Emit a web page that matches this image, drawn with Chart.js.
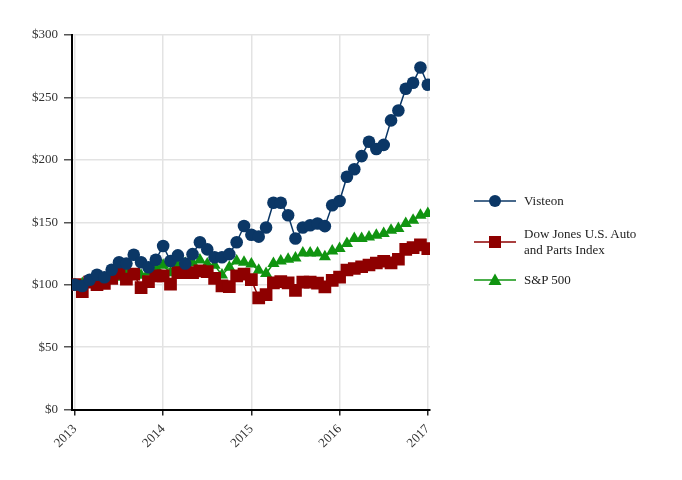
<!DOCTYPE html>
<html>
<head>
<meta charset="utf-8">
<script src="https://cdn.jsdelivr.net/npm/chart.js@4/dist/chart.umd.min.js"></script>
<style>
  html, body { margin: 0; padding: 0; background: #fff; }
  #wrap { position: relative; width: 682px; height: 480px; }
  #c { position: absolute; left: 0; top: 0; }
  .leg { position: absolute; left: 474px; font-family: "Liberation Serif", "Times New Roman", serif; font-size: 13px; color: #222; line-height: 16px; }
  .leg svg { position: absolute; left: 0; }
  .leg span { position: absolute; left: 50px; white-space: nowrap; }
</style>
</head>
<body>
<div id="wrap">
  <canvas id="c" width="682" height="480"></canvas>
</div>
<script>
// ---- data (monthly, Jan 2013 = index 0 ... Jan 2017 = index 48) ----
const yearLabels = ['2013', '2014', '2015', '2016', '2017'];
const yearTickMonths = [0, 12, 24, 36, 48];
const seriesNames = ['Visteon', 'Dow Jones U.S. Auto\nand Parts Index', 'S&P 500'];

const visteon = [100, 99, 104, 108, 106, 112, 118, 117, 124, 118, 114, 120,
  131, 119, 123.5, 117, 124.5, 134, 128.3, 122, 122, 124.5, 134, 147,
  140, 138.5, 145.8, 165.7, 165.7, 155.6, 137, 145.8, 147.6, 149, 146.9, 163.6,
  167, 186.5, 192.5, 203, 214.5, 208.7, 212, 231.6, 239.5, 257, 261.8, 274,
  260.2];
const dowJones = [100, 94.5, 102, 100, 101, 105, 109, 104.4, 108.4, 97.7, 102.5, 107,
  107, 100.4, 109.6, 109.6, 109.6, 111, 110.4, 105, 99, 98.5, 107, 108.5,
  104, 89.5, 92, 101.5, 102.5, 101.5, 95.5, 102, 102, 101.2, 98.3, 103.5,
  106, 111.8, 113, 114.4, 115.8, 117.4, 118.8, 117.5, 120.4, 128.4, 129.7, 132,
  129];
const sp500 = [100, 101, 103, 104, 105, 107, 106, 109, 108, 107.5, 110, 114,
  115.5, 109.5, 115.8, 117, 117.5, 119.8, 116.5, 115.5, 107.8, 114, 119, 118,
  116.5, 111.5, 109, 117, 119, 120.5, 121.5, 125.5, 125.5, 125.5, 122.4, 127,
  129, 133, 137, 137, 138.3, 139.7, 141, 143.7, 145, 149, 151.6, 155.6,
  157];
const yTickValues = [0, 50, 100, 150, 200, 250, 300];

const colors = ['#0b3766', '#8e0000', '#109410'];
const styles = ['circle', 'rect', 'triangle'];
const radii = [6.3, 9, 7];

function toXY(arr) { return arr.map((v, i) => ({ x: i, y: v })); }
const allSeries = [visteon, dowJones, sp500];

const datasets = allSeries.map((arr, k) => ({
  label: seriesNames[k],
  data: toXY(arr),
  borderColor: colors[k],
  backgroundColor: colors[k],
  pointBackgroundColor: colors[k],
  pointBorderColor: colors[k],
  pointBorderWidth: 0,
  borderWidth: 1.5,
  pointStyle: styles[k],
  pointRadius: radii[k],
  pointHoverRadius: radii[k],
  tension: 0,
  fill: false
}));

const font = { family: '"Liberation Serif", "Times New Roman", serif', size: 13 };

new Chart(document.getElementById('c'), {
  type: 'line',
  data: { datasets },
  options: {
    responsive: false,
    animation: false,
    events: [],
    layout: { padding: { left: 26, right: 252, top: 35, bottom: 23 } },
    plugins: { legend: { display: false }, tooltip: { enabled: false } },
    scales: {
      x: {
        type: 'linear',
        min: -0.4,
        max: 48.3,
        afterBuildTicks: (s) => { s.ticks = yearTickMonths.map(v => ({ value: v })); },
        ticks: {
          font, color: '#333', minRotation: 45, maxRotation: 45, autoSkip: false, padding: 6,
          callback: (v) => yearLabels[yearTickMonths.indexOf(v)]
        },
        grid: { color: '#e3e3e3', lineWidth: 1.5, tickColor: '#222', tickLength: 6, drawOnChartArea: true },
        border: { color: '#000', width: 2 }
      },
      y: {
        min: 0,
        max: 300,
        afterBuildTicks: (s) => { s.ticks = yTickValues.map(v => ({ value: v })); },
        ticks: { font, color: '#333', padding: 6, callback: (v) => '$' + v },
        grid: { color: '#e3e3e3', lineWidth: 1.5, tickColor: '#555', tickLength: 8 },
        border: { color: '#000', width: 2 }
      }
    }
  }
});

// ---- HTML legend ----
const wrap = document.getElementById('wrap');
const legendRows = [
  { top: 201, lines: 1 },
  { top: 241.5, lines: 2 },
  { top: 280, lines: 1 }
];
function markerSVG(k) {
  const c = colors[k];
  let m = '';
  if (styles[k] === 'circle') m = `<circle cx="21" cy="8" r="6" fill="${c}"/>`;
  if (styles[k] === 'rect') m = `<rect x="15" y="2" width="12" height="12" fill="${c}"/>`;
  if (styles[k] === 'triangle') m = `<polygon points="21,1.5 27.5,13 14.5,13" fill="${c}"/>`;
  return `<svg width="42" height="16" viewBox="0 0 42 16"><line x1="0" y1="8" x2="42" y2="8" stroke="${c}" stroke-width="1.5"/>${m}</svg>`;
}
legendRows.forEach((r, k) => {
  const d = document.createElement('div');
  d.className = 'leg';
  d.style.top = (r.top - 8) + 'px';
  d.innerHTML = markerSVG(k);
  const s = document.createElement('span');
  s.style.top = (-(r.lines - 1) * 8) + 'px';
  s.innerHTML = seriesNames[k].replace('&', '&amp;').replace('\n', '<br>');
  d.appendChild(s);
  wrap.appendChild(d);
});
</script>
</body>
</html>
